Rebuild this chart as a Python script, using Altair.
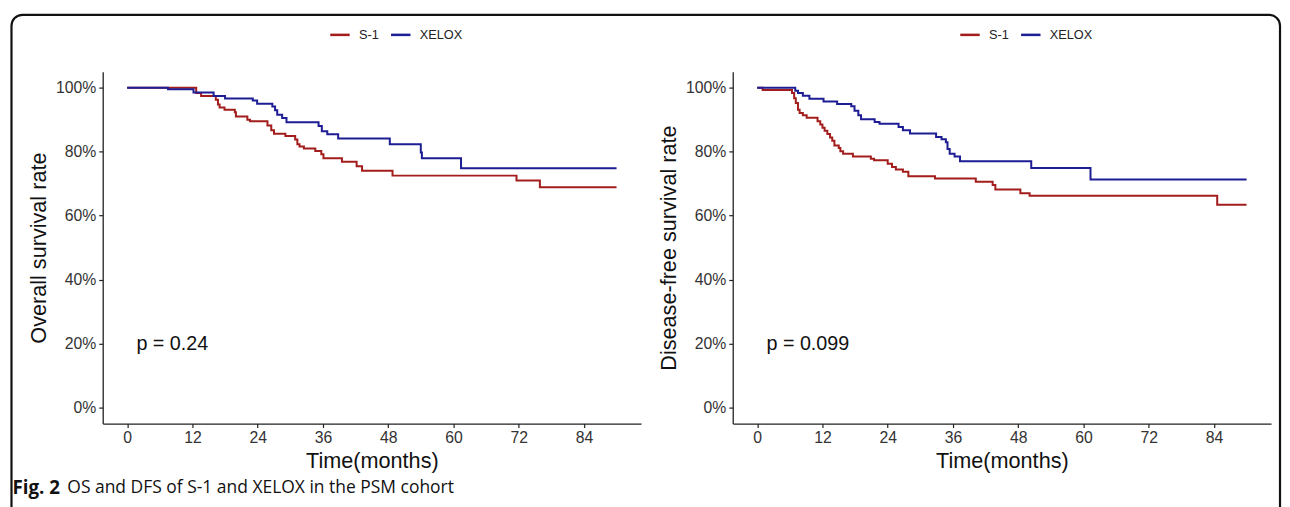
import altair as alt
import pandas as pd

# ---------------- data ----------------
groups = ["S-1", "XELOX"]
colors = ["#A31D1D", "#1D1D94"]

x_ticks = [0, 12, 24, 36, 48, 60, 72, 84]
y_ticks = [0, 0.2, 0.4, 0.6, 0.8, 1.0]

# Overall survival
os_s1_time = [0, 12.7, 13.6, 16.3, 16.7, 17.0, 17.9, 19.8, 20.0, 22.1, 22.6, 25.8, 26.5,
              27.0, 29.1, 30.9, 31.3, 31.7, 32.5, 34.6, 35.7, 36.1, 39.5, 42.2, 43.2,
              48.8, 71.6, 75.9, 90.0]
os_s1_surv = [1.0, 0.983, 0.974, 0.962, 0.947, 0.938, 0.931, 0.923, 0.910, 0.900, 0.895,
              0.882, 0.867, 0.856, 0.849, 0.838, 0.823, 0.816, 0.810, 0.802, 0.792, 0.779,
              0.768, 0.754, 0.740, 0.725, 0.710, 0.689, 0.689]
os_xe_time = [0, 7.5, 12.2, 15.9, 18.0, 23.1, 23.9, 26.7, 27.2, 27.6, 28.5, 29.3, 35.2,
              35.8, 36.8, 38.8, 48.3, 54.0, 54.2, 61.4, 90.0]
os_xe_surv = [1.0, 0.995, 0.985, 0.974, 0.966, 0.960, 0.950, 0.941, 0.929, 0.915, 0.905,
              0.892, 0.880, 0.864, 0.854, 0.841, 0.823, 0.797, 0.779, 0.748, 0.748]

# Disease-free survival
dfs_s1_time = [0, 1.0, 6.4, 6.8, 7.1, 7.5, 7.8, 8.4, 9.1, 11.1, 11.6, 12.0, 12.4, 12.9,
               13.4, 13.8, 14.2, 15.0, 15.3, 15.8, 17.6, 20.9, 21.5, 24.0, 24.8, 25.5,
               26.8, 27.8, 32.7, 40.2, 43.3, 43.8, 48.4, 50.1, 84.6, 90.0]
dfs_s1_surv = [1.0, 0.993, 0.983, 0.967, 0.952, 0.931, 0.921, 0.914, 0.906, 0.895, 0.885,
               0.875, 0.865, 0.855, 0.844, 0.834, 0.819, 0.811, 0.801, 0.793, 0.785,
               0.778, 0.773, 0.762, 0.752, 0.744, 0.737, 0.723, 0.716, 0.706, 0.696,
               0.682, 0.670, 0.662, 0.634, 0.634]
dfs_xe_time = [0, 7.0, 7.5, 8.4, 9.6, 12.2, 14.7, 17.3, 17.9, 18.6, 19.1, 21.6, 22.5, 26.0,
               26.8, 28.1, 32.9, 33.9, 34.7, 35.0, 35.4, 36.3, 37.3, 50.4, 61.3, 90.0]
dfs_xe_surv = [1.0, 0.990, 0.983, 0.975, 0.965, 0.957, 0.949, 0.942, 0.928, 0.914, 0.901,
               0.893, 0.887, 0.877, 0.867, 0.857, 0.846, 0.839, 0.829, 0.808, 0.793,
               0.785, 0.770, 0.749, 0.713, 0.713]

os_p = ["p = 0.24"]
dfs_p = ["p = 0.099"]
p_time = [1.7]
p_surv = [0.2]

y_titles = ["Overall survival rate", "Disease-free survival rate"]
x_title = "Time(months)"
caption_bold = ["Fig. 2"]
caption_rest = ["OS and DFS of S-1 and XELOX in the PSM cohort"]

# ---------------- layout constants ----------------
W, H = 540, 353
FONT = "Liberation Sans"


def curve_frame(t1, s1, t2, s2):
    return pd.concat([
        pd.DataFrame({"time": t1, "surv": s1, "group": groups[0]}),
        pd.DataFrame({"time": t2, "surv": s2, "group": groups[1]}),
    ], ignore_index=True)


def panel(df, ytitle, ptext, extras=()):
    lines = alt.Chart(df).mark_line(interpolate="step-after", strokeWidth=2).encode(
        x=alt.X("time:Q",
                scale=alt.Scale(domain=[-4.5, 94.5], nice=False, zero=False),
                axis=alt.Axis(values=x_ticks, title=x_title, grid=False,
                              domainColor="#222", domainWidth=1.3, tickColor="#222",
                              tickWidth=1.2, tickSize=4, labelFont=FONT, labelFontSize=15.8,
                              labelColor="#333", labelPadding=3, titleFont=FONT,
                              titleFontSize=21.7, titleFontWeight="normal",
                              titleColor="#111", titlePadding=5)),
        y=alt.Y("surv:Q",
                scale=alt.Scale(domain=[-0.05, 1.05], nice=False, zero=False),
                axis=alt.Axis(values=y_ticks, format=".0%", title=ytitle, grid=False,
                              domainColor="#222", domainWidth=1.3, tickColor="#222",
                              tickWidth=1.2, tickSize=4, labelFont=FONT, labelFontSize=15.8,
                              labelColor="#333", labelPadding=3, titleFont=FONT,
                              titleFontSize=21.7, titleFontWeight="normal",
                              titleColor="#111", titlePadding=5)),
        color=alt.Color("group:N",
                        scale=alt.Scale(domain=groups, range=colors),
                        legend=alt.Legend(orient="none", legendX=227, legendY=-48,
                                          direction="horizontal", title=None,
                                          symbolType="stroke", symbolSize=380,
                                          symbolStrokeWidth=2.5, labelFont=FONT,
                                          labelFontSize=12.8, labelColor="#222",
                                          labelOffset=8, columnPadding=7, padding=0)),
    )
    ptxt = alt.Chart(pd.DataFrame({"time": p_time, "surv": p_surv, "label": ptext})).mark_text(
        align="left", baseline="middle", font=FONT, fontSize=19.8, color="#111"
    ).encode(x="time:Q", y="surv:Q", text="label:N")
    return alt.layer(lines, ptxt, *extras).properties(width=W, height=H)


one = pd.DataFrame({"k": [0]})
border = alt.Chart(one).mark_rect(
    fillOpacity=0, stroke="#111", strokeWidth=2.2,
    cornerRadiusTopLeft=11, cornerRadiusTopRight=11,
).encode(x=alt.value(-91.5), x2=alt.value(1181), y=alt.value(-57), y2=alt.value(480))
cap1 = alt.Chart(pd.DataFrame({"t": caption_bold})).mark_text(
    align="left", baseline="middle", font="Open Sans", fontSize=18.8, fontWeight="bold",
    color="#111").encode(x=alt.value(-90.5), y=alt.value(418), text="t:N")
cap2 = alt.Chart(pd.DataFrame({"t": caption_rest})).mark_text(
    align="left", baseline="middle", font="Open Sans", fontSize=17.5, color="#111"
).encode(x=alt.value(-35.5), y=alt.value(418), text="t:N")

left = panel(curve_frame(os_s1_time, os_s1_surv, os_xe_time, os_xe_surv),
             y_titles[0], os_p, extras=(border, cap1, cap2))
right = panel(curve_frame(dfs_s1_time, dfs_s1_surv, dfs_xe_time, dfs_xe_surv),
              y_titles[1], dfs_p)

chart = alt.hconcat(left, right, spacing=92, bounds="flush").resolve_scale(
    color="independent").resolve_legend(color="independent").properties(
    padding={"left": 2, "top": 4, "right": 0, "bottom": 0}
).configure(background="white").configure_view(stroke=None)

chart.save("out.html", embed_options={"renderer": "svg", "actions": False})
